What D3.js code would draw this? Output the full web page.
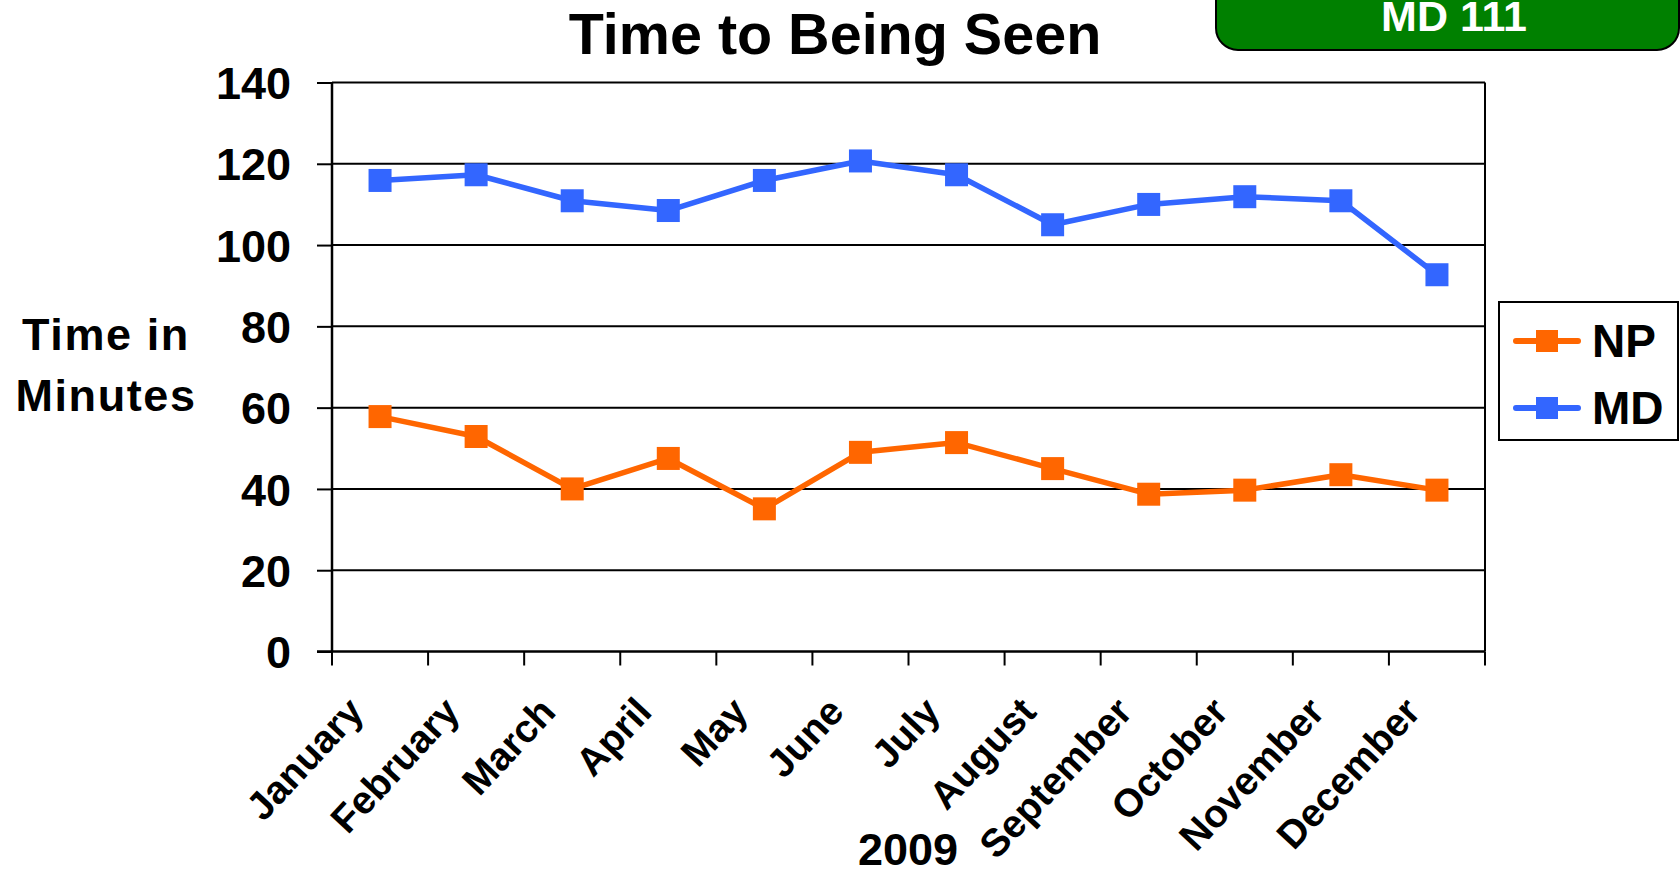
<!DOCTYPE html>
<html>
<head>
<meta charset="utf-8">
<script src="https://cdn.jsdelivr.net/npm/d3@7"></script>
<style>
  html, body { margin: 0; padding: 0; background: #ffffff; }
  svg { display: block; }
  text { font-family: "Liberation Sans", Arial, sans-serif; font-weight: bold; fill: #000; }
</style>
</head>
<body>
<svg id="chart" width="1680" height="873"></svg>
<script>
// Monthly wait time before a patient is seen, 2009
const months = ["January", "February", "March", "April", "May", "June",
                "July", "August", "September", "October", "November", "December"];
const npValues = [57.8, 52.9, 40.0, 47.5, 35.1, 49.0, 51.4, 45.0, 38.7, 39.7, 43.5, 39.7];
const mdValues = [115.9, 117.3, 110.9, 108.5, 115.9, 120.7, 117.3, 105.0, 110.0, 111.9, 110.9, 92.7];
const yTicks = [0, 20, 40, 60, 80, 100, 120, 140];
const seriesNames = ["NP", "MD"];
const seriesColors = ["#ff6600", "#3366ff"];

const svg = d3.select("#chart");

const plot = { left: 332, right: 1485, top: 82.5, bottom: 651.5 };

const x = d3.scaleBand().domain(months).range([plot.left, plot.right]);
const y = d3.scaleLinear().domain([0, 140]).range([plot.bottom, plot.top]);

// Horizontal gridlines
svg.append("g")
  .selectAll("line")
  .data(yTicks.filter(t => t > 0))
  .join("line")
  .attr("x1", plot.left).attr("x2", plot.right)
  .attr("y1", d => y(d)).attr("y2", d => y(d))
  .attr("stroke", "#000").attr("stroke-width", 2);

// Right border of plot area
svg.append("line")
  .attr("x1", plot.right).attr("x2", plot.right)
  .attr("y1", plot.top).attr("y2", plot.bottom)
  .attr("stroke", "#000").attr("stroke-width", 2);

// Y axis
const yAxis = svg.append("g")
  .attr("transform", `translate(${plot.left},0)`)
  .call(d3.axisLeft(y).tickValues(yTicks).tickSize(15).tickPadding(26));
yAxis.select(".domain").attr("stroke", "#000").attr("stroke-width", 2.5)
  .attr("d", `M0,${plot.top}V${plot.bottom}`);
yAxis.selectAll(".tick line").attr("stroke", "#000").attr("stroke-width", 2);
yAxis.selectAll(".tick text")
  .attr("font-size", 45).attr("font-family", null).attr("dy", "0.36em");
yAxis.attr("font-family", null).attr("font-size", null);

// X axis line
svg.append("line")
  .attr("x1", plot.left - 15).attr("x2", plot.right)
  .attr("y1", plot.bottom).attr("y2", plot.bottom)
  .attr("stroke", "#000").attr("stroke-width", 2.5);

// X tick marks on category boundaries
const boundaries = months.map(m => x(m)).concat([x(months[months.length - 1]) + x.bandwidth()]);
svg.append("g")
  .selectAll("line")
  .data(boundaries)
  .join("line")
  .attr("x1", d => d).attr("x2", d => d)
  .attr("y1", plot.bottom).attr("y2", plot.bottom + 14)
  .attr("stroke", "#000").attr("stroke-width", 2);

// Rotated month labels
svg.append("g")
  .selectAll("text")
  .data(months)
  .join("text")
  .attr("transform", d => `translate(${x(d) + x.bandwidth() / 2 - 36},${plot.bottom + 42}) rotate(-47)`)
  .attr("text-anchor", "end")
  .attr("dy", "0.75em")
  .attr("font-size", 39)
  .text(d => d);

// Series lines and square markers
const valuesBySeries = [npValues, mdValues];
const line = d3.line()
  .x((d, i) => x(months[i]) + x.bandwidth() / 2)
  .y(d => y(d));

[1, 0].forEach(s => {
  const g = svg.append("g");
  g.append("path")
    .datum(valuesBySeries[s])
    .attr("d", line)
    .attr("fill", "none")
    .attr("stroke", seriesColors[s])
    .attr("stroke-width", 5.5)
    .attr("stroke-linejoin", "round");
  const size = 23;
  g.selectAll("rect")
    .data(valuesBySeries[s])
    .join("rect")
    .attr("x", (d, i) => x(months[i]) + x.bandwidth() / 2 - size / 2)
    .attr("y", d => y(d) - size / 2)
    .attr("width", size).attr("height", size)
    .attr("fill", seriesColors[s]);
});

// Title
svg.append("text")
  .attr("x", 835).attr("y", 54)
  .attr("text-anchor", "middle")
  .attr("font-size", 57.5)
  .text("Time to Being Seen");

// Y axis title
const yTitle = svg.append("text")
  .attr("text-anchor", "middle")
  .attr("font-size", 45)
  .attr("letter-spacing", 1.6);
yTitle.append("tspan").attr("x", 106).attr("y", 350).text("Time in");
yTitle.append("tspan").attr("x", 106).attr("y", 411).text("Minutes");

// Year label under the axis
svg.append("text")
  .attr("x", 908).attr("y", 865)
  .attr("text-anchor", "middle")
  .attr("font-size", 45)
  .text("2009");

// Legend
const legend = svg.append("g");
legend.append("rect")
  .attr("x", 1499).attr("y", 302)
  .attr("width", 179).attr("height", 138)
  .attr("fill", "#fff").attr("stroke", "#000").attr("stroke-width", 2);
const legendRows = [341, 408];
seriesNames.forEach((name, i) => {
  const ly = legendRows[i];
  legend.append("line")
    .attr("x1", 1516).attr("x2", 1578)
    .attr("y1", ly).attr("y2", ly)
    .attr("stroke", seriesColors[i]).attr("stroke-width", 6)
    .attr("stroke-linecap", "round");
  legend.append("rect")
    .attr("x", 1547 - 11).attr("y", ly - 11)
    .attr("width", 22).attr("height", 22)
    .attr("fill", seriesColors[i]);
  legend.append("text")
    .attr("x", 1592).attr("y", ly + 16)
    .attr("font-size", 46)
    .text(name);
});

// Badge in the top-right corner
const badge = svg.append("g");
badge.append("rect")
  .attr("x", 1216).attr("y", -30)
  .attr("width", 463).attr("height", 80)
  .attr("rx", 22).attr("ry", 22)
  .attr("fill", "#008000").attr("stroke", "#000").attr("stroke-width", 2);
badge.append("text")
  .attr("x", 1454).attr("y", 31)
  .attr("text-anchor", "middle")
  .attr("font-size", 43)
  .style("fill", "#fff")
  .text("MD 111");
</script>
</body>
</html>
